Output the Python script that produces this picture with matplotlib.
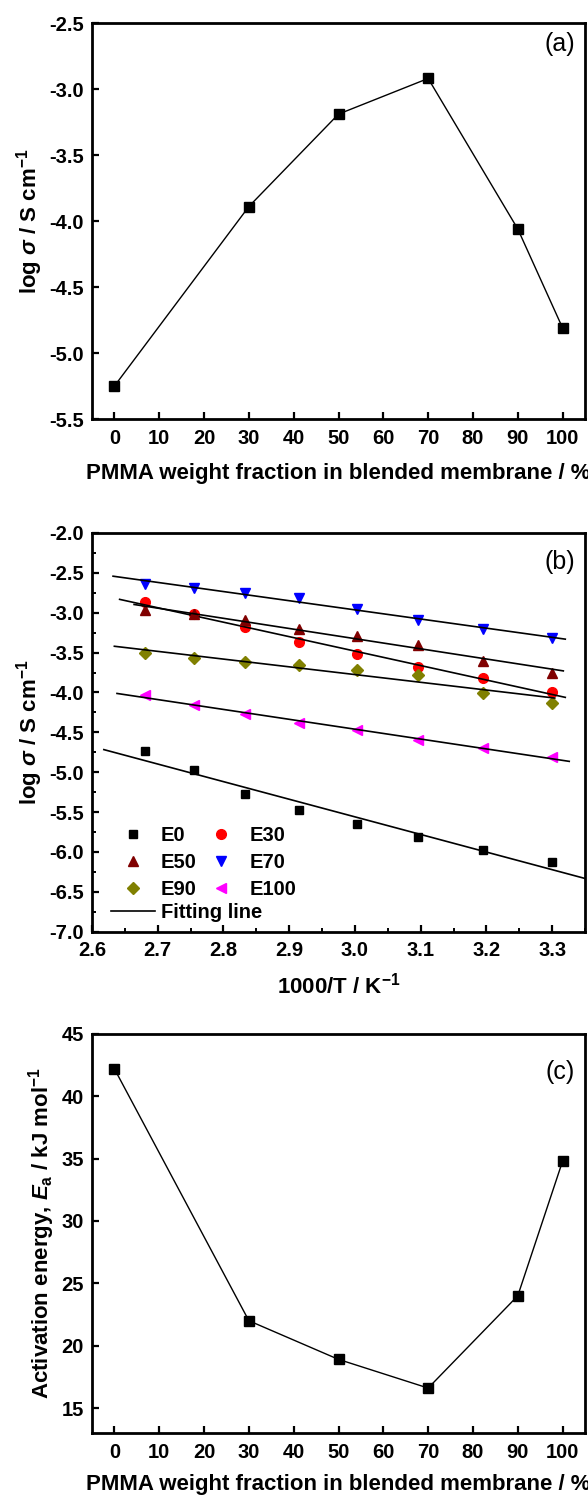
import numpy as np
import matplotlib
matplotlib.use('Agg')
import matplotlib.pyplot as plt
from matplotlib.lines import Line2D
from matplotlib.ticker import MultipleLocator

plt.rcParams['font.family'] = ['Liberation Sans', 'DejaVu Sans']
plt.rcParams['font.weight'] = 'bold'
plt.rcParams['axes.labelweight'] = 'bold'
plt.rcParams['axes.unicode_minus'] = False
plt.rcParams['mathtext.fontset'] = 'custom'
plt.rcParams['mathtext.rm'] = 'Liberation Sans:bold'
plt.rcParams['mathtext.bf'] = 'Liberation Sans:bold'
plt.rcParams['mathtext.it'] = 'Liberation Sans:bold:italic'

# (a) conductivity vs PMMA fraction
pmma = [0, 30, 50, 70, 90, 100]
log_sigma = [-5.25, -3.89, -3.19, -2.92, -4.06, -4.81]

# (b) Arrhenius data, 1000/T for 100..30 C
inv_T = [2.681, 2.755, 2.833, 2.915, 3.003, 3.096, 3.195, 3.300]
series_names = ['E0', 'E30', 'E50', 'E70', 'E90', 'E100']
E0 = [-4.73, -4.97, -5.27, -5.47, -5.65, -5.81, -5.97, -6.12]
E30 = [-2.87, -3.02, -3.18, -3.37, -3.52, -3.68, -3.82, -3.99]
E50 = [-2.97, -3.02, -3.09, -3.20, -3.29, -3.40, -3.60, -3.75]
E70 = [-2.64, -2.69, -2.75, -2.82, -2.95, -3.09, -3.20, -3.32]
E90 = [-3.51, -3.57, -3.62, -3.65, -3.72, -3.78, -4.01, -4.13]
E100 = [-4.03, -4.16, -4.27, -4.38, -4.47, -4.59, -4.70, -4.81]
# x span covered by each fitting line
fit_ranges = [(2.618, 3.35), (2.642, 3.32), (2.664, 3.317),
              (2.632, 3.32), (2.634, 3.304), (2.638, 3.326)]
markers = ['s', 'o', '^', 'v', 'D', '<']
colors = ['#000000', '#FF0000', '#800000', '#0000FF', '#808000', '#FF00FF']
msizes = [5.5, 7, 7, 7, 6, 7]

# (c) activation energy
Ea = [42.2, 22.0, 18.9, 16.6, 24.0, 34.8]

TICK_FS = 14.5
LABEL_FS = 16

fig = plt.figure(figsize=(5.88, 14.95), dpi=100)
ax_a = fig.add_axes([0.1565, 0.7197, 0.8384, 0.2649])
ax_b = fig.add_axes([0.1565, 0.3768, 0.8384, 0.2667])
ax_c = fig.add_axes([0.1565, 0.0415, 0.8384, 0.2669])


def style(ax):
    for s in ax.spines.values():
        s.set_linewidth(2)
    ax.tick_params(direction='in', which='major', length=5, width=1.6,
                   labelsize=TICK_FS, top=False, right=False)
    ax.tick_params(axis='x', pad=7)
    ax.tick_params(axis='y', pad=6)
    ax.tick_params(direction='in', which='minor', length=3, width=1.4,
                   top=False, right=False)


# panel a
ax_a.plot(pmma, log_sigma, 's-', color='black', lw=1, ms=7.5)
ax_a.set_xlim(-5, 105)
ax_a.set_ylim(-5.5, -2.5)
ax_a.xaxis.set_major_locator(MultipleLocator(10))
ax_a.yaxis.set_major_locator(MultipleLocator(0.5))
ax_a.yaxis.set_major_formatter('{x:.1f}')
style(ax_a)
ax_a.set_xlabel('PMMA weight fraction in blended membrane / %', fontsize=LABEL_FS, labelpad=11)
ax_a.set_ylabel(r'log $\sigma$ / S cm$^{-1}$', fontsize=LABEL_FS, labelpad=3)
ax_a.text(0.949, 0.947, '(a)', transform=ax_a.transAxes, ha='center', va='center',
          fontsize=18, fontweight='normal')

# panel b
all_series = [E0, E30, E50, E70, E90, E100]
handles = []
for name, ys, mk, c, ms, rng in zip(series_names, all_series, markers, colors, msizes, fit_ranges):
    ax_b.plot(inv_T, ys, linestyle='none', marker=mk, color=c, ms=ms)
    k, b = np.polyfit(inv_T, ys, 1)
    xf = np.array(rng)
    ax_b.plot(xf, k * xf + b, color='black', lw=1.2)
    handles.append(Line2D([], [], linestyle='none', marker=mk, color=c, ms=ms, label=name))
ax_b.set_xlim(2.6, 3.35)
ax_b.set_ylim(-7.0, -2.0)
ax_b.xaxis.set_major_locator(MultipleLocator(0.1))
ax_b.xaxis.set_minor_locator(MultipleLocator(0.05))
ax_b.yaxis.set_major_locator(MultipleLocator(0.5))
ax_b.yaxis.set_minor_locator(MultipleLocator(0.25))
ax_b.xaxis.set_major_formatter('{x:.1f}')
ax_b.yaxis.set_major_formatter('{x:.1f}')
style(ax_b)
ax_b.set_xlabel(r'1000/T / K$^{-1}$', fontsize=LABEL_FS, labelpad=9)
ax_b.set_ylabel(r'log $\sigma$ / S cm$^{-1}$', fontsize=LABEL_FS, labelpad=3)
ax_b.text(0.949, 0.927, '(b)', transform=ax_b.transAxes, ha='center', va='center',
          fontsize=18, fontweight='normal')

order = [0, 2, 4, 1, 3, 5]
leg1 = ax_b.legend([handles[i] for i in order], [series_names[i] for i in order],
                   ncol=2, loc='upper left', bbox_to_anchor=(0.0377, 0.2640),
                   frameon=False, fontsize=14.5, handlelength=2.2, handletextpad=0.3,
                   columnspacing=0.1, borderpad=0, borderaxespad=0, labelspacing=0.38)
ax_b.add_artist(leg1)
fit_handle = Line2D([], [], color='black', lw=1.2)
ax_b.legend([fit_handle], ['Fitting line'], loc='upper left', bbox_to_anchor=(0.0377, 0.0720),
            frameon=False, fontsize=14.5, handlelength=2.2, handletextpad=0.3,
            borderpad=0, borderaxespad=0)

# panel c
ax_c.plot(pmma, Ea, 's-', color='black', lw=1, ms=7.5)
ax_c.set_xlim(-5, 105)
ax_c.set_ylim(13, 45)
ax_c.xaxis.set_major_locator(MultipleLocator(10))
ax_c.yaxis.set_major_locator(MultipleLocator(5))
style(ax_c)
ax_c.set_xlabel('PMMA weight fraction in blended membrane / %', fontsize=LABEL_FS, labelpad=9)
ax_c.set_ylabel(r'Activation energy, $E_{\mathrm{a}}$ / kJ mol$^{-1}$', fontsize=LABEL_FS, labelpad=3)
ax_c.text(0.949, 0.905, '(c)', transform=ax_c.transAxes, ha='center', va='center',
          fontsize=18, fontweight='normal')

fig.savefig('out.png', dpi=100)
